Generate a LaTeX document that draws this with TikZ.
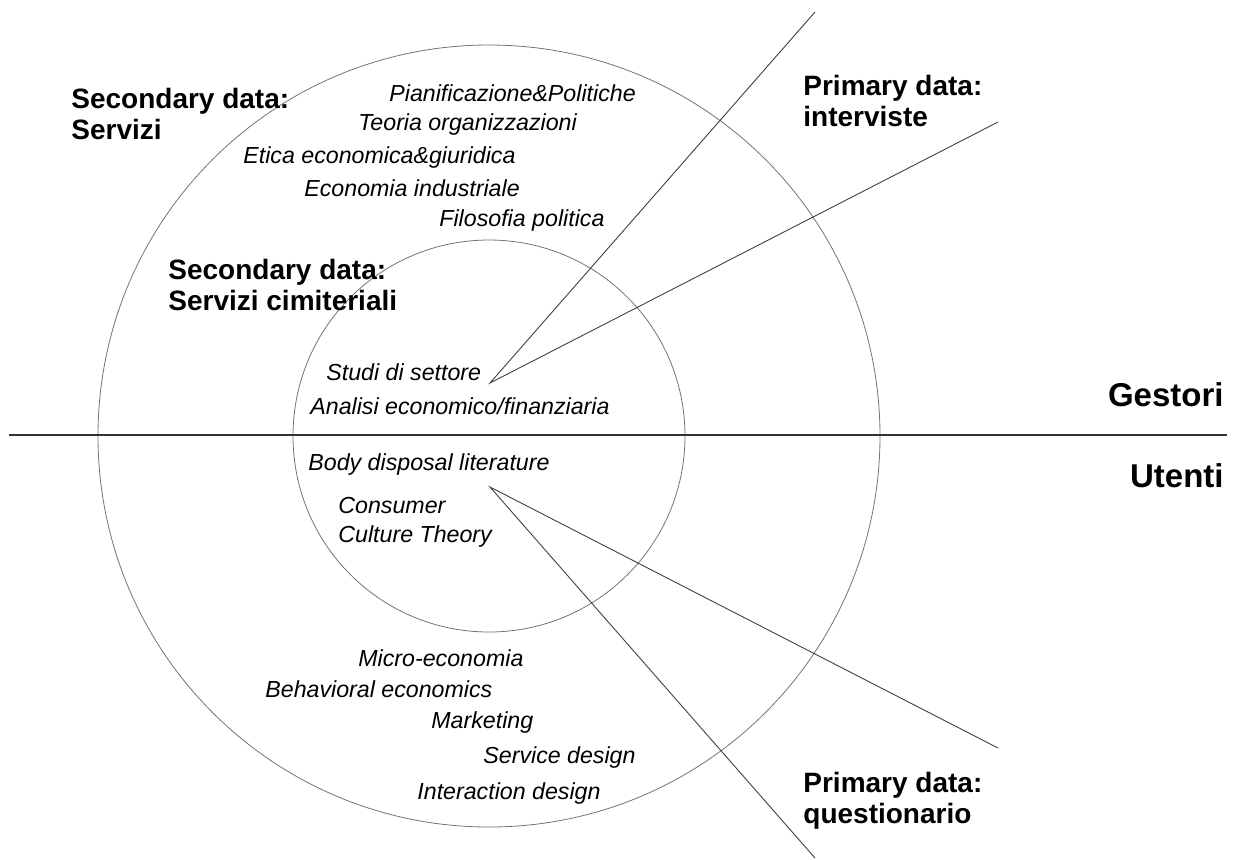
\documentclass[tikz,border=0pt]{standalone}
\usepackage{fontspec}
\setmainfont{Liberation Sans}
\usetikzlibrary{positioning}

\begin{document}
\begin{tikzpicture}[x=0.5pt,y=-0.5pt,
    header/.style={inner sep=0pt,align=left,font=\fontsize{14}{15.5}\selectfont\bfseries},
    side/.style={inner sep=0pt,font=\fontsize{16.5}{18}\selectfont\bfseries},
    topic/.style={inner sep=0pt,align=left,font=\fontsize{11.6}{14.5}\selectfont\itshape},
    ray/.style={draw=black!75,line width=0.45pt}]
                \useasboundingbox (0,0) rectangle (1233,859);
                \coordinate (c) at (489,436);
                \draw[black!55,line width=0.4pt] (c) circle (391);
                \draw[black!55,line width=0.4pt] (c) circle (196);
                \coordinate (l) at (9,435);
                \coordinate (r) at (1227,435);
                \draw[black!80,line width=0.6pt] (l) -- (r);

                \coordinate (apexup) at (490,383);
                \coordinate (apexdown) at (490,487);
                \coordinate (up1) at (815,12);
                \coordinate (up2) at (998,122);
                \coordinate (down1) at (998,748);
                \coordinate (down2) at (815,858);
                \draw[ray] (up1) -- (apexup) -- (up2);
                \draw[ray] (down1) -- (apexdown) -- (down2);

                \node[header,anchor=west] (servizi) at (71,114) {Secondary data:\\Servizi};
                \node[header,anchor=west] (cimiteriali) at (168,285) {Secondary data:\\Servizi cimiteriali};
                \node[header,anchor=west] (interviste) at (803,101) {Primary data:\\interviste};
                \node[header,anchor=west] (questionario) at (803,801) {Primary data:\\questionario};
                \node[side,anchor=east] (gestori) at (1224,395) {Gestori};
                \node[side,anchor=east] (utenti) at (1224,476) {Utenti};

                \node[topic,anchor=west] (pian) at (389,93) {Pianificazione\&Politiche};
                \node[topic,anchor=west] (teoria) at (358,124) {Teoria organizzazioni};
                \node[topic,anchor=west] (etica) at (243,157) {Etica economica\&giuridica};
                \node[topic,anchor=west] (indu) at (304,188) {Economia industriale};
                \node[topic,anchor=west] (filo) at (439,220) {Filosofia politica};
                \node[topic,anchor=west] (studi) at (326,372) {Studi di settore};
                \node[topic,anchor=west] (analisi) at (310,406) {Analisi economico/finanziaria};
                \node[topic,anchor=west] (body) at (308,464) {Body disposal literature};
                \node[topic,anchor=west] (cct) at (338,522) {Consumer\\Culture Theory};
                \node[topic,anchor=west] (micro) at (358,658) {Micro-economia};
                \node[topic,anchor=west] (behav) at (265,689) {Behavioral economics};
                \node[topic,anchor=west] (mkt) at (431,722) {Marketing};
                \node[topic,anchor=west] (sdes) at (483,757) {Service design};
                \node[topic,anchor=west] (ides) at (417,793) {Interaction design};
            \end{tikzpicture}
\end{document}
